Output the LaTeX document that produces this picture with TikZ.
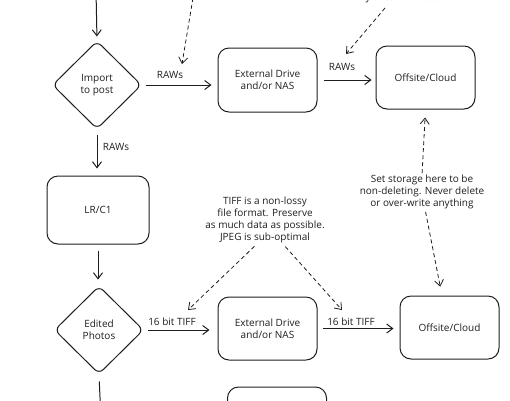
\documentclass[tikz,border=0pt]{standalone}
\usepackage{fontspec}
\setmainfont{Open Sans}
\usetikzlibrary{shapes.geometric,arrows.meta}
\definecolor{ink}{HTML}{1E1E1E}
\tikzset{
  every node/.style={font=\fontsize{10}{11.8}\selectfont, text=ink},
  boxnode/.style={draw=ink, line width=1pt, rounded corners=11pt, minimum width=99pt, minimum height=64pt, align=center, inner sep=0pt},
  decide/.style={draw=ink, line width=1pt, diamond, rounded corners=6pt, minimum width=89pt, minimum height=88pt, align=center, inner sep=0pt},
  flow/.style={draw=ink, line width=1pt, -{Straight Barb[length=6pt,width=9pt]}},
  hint/.style={draw=ink, line width=0.8pt, dash pattern=on 4pt off 3pt, -{Straight Barb[length=6pt,width=9pt]}},
  note/.style={align=center, inner sep=0pt},
  lbl/.style={inner sep=0pt}
}
\begin{document}
\begin{tikzpicture}[x=1pt,y=-1pt]
\useasboundingbox (0,0) rectangle (510,400);
% nodes
\node[decide] (imp) at (97,85) {Import\\to post};
\node[boxnode] (ext1) at (267.5,80) {External Drive\\and/or NAS};
\node[boxnode, minimum height=63pt] (off1) at (425.5,77.5) {Offsite/Cloud};
\node[boxnode, minimum width=102pt, minimum height=68pt] (lr) at (98,210) {LR/C1};
\node[decide] (edit) at (99,330) {Edited\\Photos};
\node[boxnode, minimum height=63pt] (ext2) at (267.5,328.5) {External Drive\\and/or NAS};
\node[boxnode, minimum height=63pt] (off2) at (449.5,327.5) {Offsite/Cloud};
\node[boxnode] (bot) at (277,419) {};
% notes
\node[note] (n1) at (400,-2) {by date in folders};
\node[note] (n2) at (265,220) {TIFF is a non-lossy\\file format. Preserve\\as much data as possible.\\JPEG is sub-optimal};
\node[note] (n3) at (422,192) {Set storage here to be\\non-deleting. Never delete\\or over-write anything};
% free coordinates
\coordinate (topin) at (96,-10);
\coordinate (d1s) at (193,-2);
\coordinate (d1e) at (182,64);
\coordinate (d2s) at (385,8);
\coordinate (d2e) at (346,54);
\coordinate (botout) at (101,420);
% flow arrows
\draw[flow, shorten >=4pt] (topin) -- (imp.north);
\draw[flow, shorten <=4pt, shorten >=6pt] (imp.east) -- (ext1.west |- imp.east);
\node[lbl] (l1) at (170,75) {RAWs};
\draw[flow, shorten <=6pt, shorten >=4pt] (ext1.east) -- (off1.west |- ext1.east);
\node[lbl] (l2) at (342,67) {RAWs};
\draw[flow, shorten <=5pt, shorten >=7pt] (imp.south) -- (lr.north -| imp.south);
\node[lbl] (l3) at (116,147) {RAWs};
\draw[flow, shorten <=6pt, shorten >=6pt] (lr.south) -- (edit.north -| lr.south);
\draw[flow, shorten <=4pt, shorten >=8pt] (edit.east) -- (ext2.west |- edit.east);
\node[lbl] (l4) at (172,322) {16 bit TIFF};
\draw[flow, shorten <=5pt, shorten >=6pt] (ext2.east) -- (off2.west |- ext2.east);
\node[lbl] (l5) at (351,322) {16 bit TIFF};
\draw[draw=ink, line width=1pt, shorten <=7pt] (edit.south) -- (botout);
% dashed hints
\draw[hint] (d1s) -- (d1e);
\draw[hint] (d2s) -- (d2e);
\draw[hint, shorten <=2pt, shorten >=8pt] (n3.north) -- (off1.south);
\draw[hint, shorten <=3pt, shorten >=9pt] ([xshift=3pt]n3.south) -- ([xshift=-7.5pt]off2.north);
\draw[hint, shorten <=5pt] ([xshift=-7pt]n2.south) -- (188,310);
\draw[hint, shorten <=5pt] ([xshift=17pt]n2.south) -- (342,310);
\end{tikzpicture}
\end{document}
